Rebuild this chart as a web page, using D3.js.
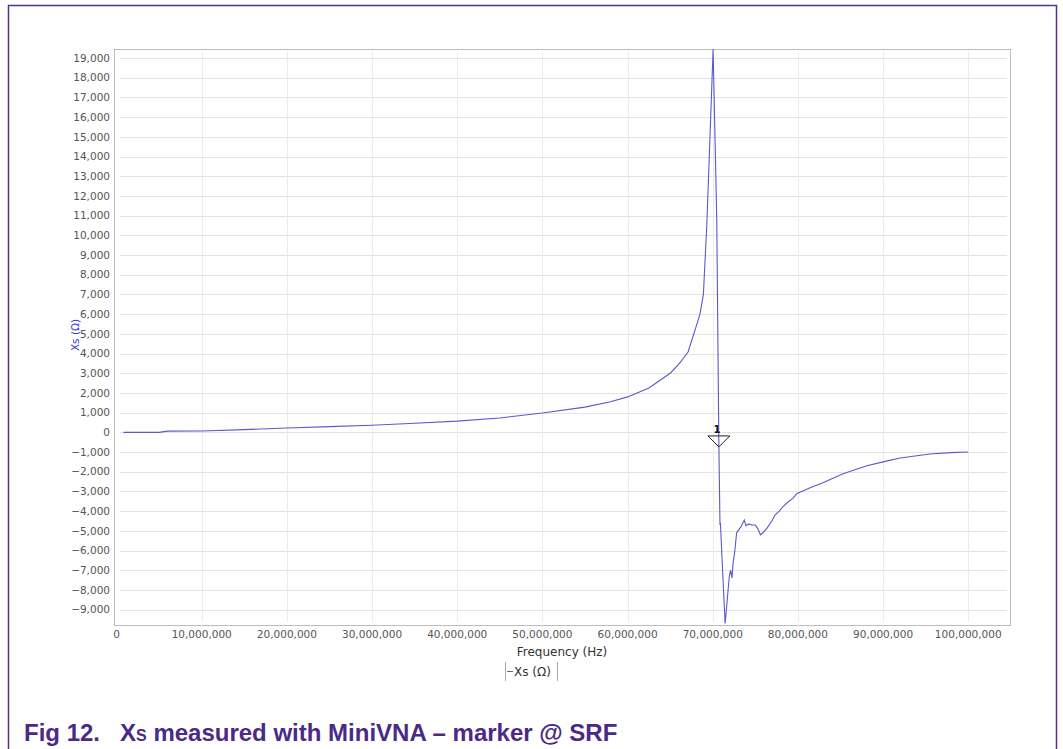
<!DOCTYPE html>
<html>
<head>
<meta charset="utf-8">
<script src="https://cdn.jsdelivr.net/npm/d3@7"></script>
<style>
  body { margin: 0; background: #fff; }
  svg { display: block; }
</style>
</head>
<body>
<div id="chart"></div>
<script>
var freqMHz = [0.8, 5, 6, 10, 15, 20, 25, 30, 35, 40, 45, 50, 55, 58, 60, 62.5, 65, 66, 67.1, 68, 68.5, 68.9, 69.3, 69.55, 69.8, 70.04,
  70.47, 70.72, 70.85, 70.9, 71.1, 71.45, 71.6, 71.8, 71.95, 72.1, 72.25, 72.4, 72.6, 72.8, 73.3, 73.7, 73.9, 74.2, 74.6,
  75.0, 75.3, 75.6, 75.9, 76.4, 77.0, 77.3, 77.8, 78.2, 78.8, 79.4, 79.9, 80.7, 81.5, 83.0, 85.3, 88.1, 90.0, 92.0, 95.5, 98, 100];
var xsOhm = [0, 0, 60, 70, 140, 220, 290, 360, 460, 570, 730, 980, 1280, 1550, 1800, 2250, 3000, 3450, 4080, 5300, 6000, 7000, 10500, 13500, 16500, 19450,
  10800, -700, -4700, -4600, -6500, -9700, -9000, -8000, -7300, -7000, -7400, -6600, -6000, -5100, -4800, -4450, -4750, -4650, -4700,
  -4700, -4900, -5200, -5100, -4850, -4450, -4200, -4000, -3800, -3550, -3350, -3100, -2950, -2800, -2550, -2100, -1700, -1500, -1300, -1100, -1030, -1000];

var xTicks = d3.range(0, 100000001, 10000000);
var yTicks = d3.range(-9000, 19001, 1000);

var markerFreq = 70.72e6, markerXs = -740, markerLabel = "1";

var seriesName = "Xs (\u03A9)";
var xTitle = "Frequency (Hz)";
var caption = "Fig 12.";
var captionRest = " measured with MiniVNA \u2013 marker @ SRF";

var W = 1063, H = 749;
var plot = { left: 114, top: 49, right: 1010, bottom: 625 };

var svg = d3.select("#chart").append("svg")
    .attr("width", W)
    .attr("height", H);

// frame
svg.append("path")
    .attr("d", "M8.5," + H + "V5.5H1056.5V" + H)
    .attr("fill", "none")
    .attr("stroke", "#55308f")
    .attr("stroke-width", 1.5);

var x = d3.scaleLinear()
    .domain([-0.3e6, 104.9e6])
    .range([plot.left, plot.right]);

var y = d3.scaleLinear()
    .domain([-9780, 19460])
    .range([plot.bottom, plot.top]);

var fmt = d3.format(",");

// grid
svg.append("g")
    .selectAll("line")
    .data(yTicks)
    .enter().append("line")
    .attr("x1", plot.left + 6)
    .attr("x2", plot.right - 3)
    .attr("y1", function(d) { return Math.round(y(d)) + 0.5; })
    .attr("y2", function(d) { return Math.round(y(d)) + 0.5; })
    .style("stroke", "#e4e4e4");

svg.append("g")
    .selectAll("line")
    .data(xTicks.slice(1))
    .enter().append("line")
    .attr("x1", function(d) { return Math.round(x(d)) + 0.5; })
    .attr("x2", function(d) { return Math.round(x(d)) + 0.5; })
    .attr("y1", plot.top + 3)
    .attr("y2", plot.bottom - 3)
    .style("stroke", "#ececec");

// plot border
svg.append("rect")
    .attr("x", plot.left + 0.5)
    .attr("y", plot.top + 0.5)
    .attr("width", plot.right - plot.left)
    .attr("height", plot.bottom - plot.top)
    .attr("fill", "none")
    .attr("stroke", "#bdbdbd");

// tick labels
svg.append("g")
    .selectAll("text")
    .data(yTicks)
    .enter().append("text")
    .attr("x", plot.left - 4)
    .attr("y", function(d) { return y(d); })
    .attr("dy", "0.35em")
    .attr("text-anchor", "end")
    .style("font", "10.5px 'DejaVu Sans'")
    .style("fill", "#555")
    .text(function(d) { return fmt(d); });

svg.append("g")
    .selectAll("text")
    .data(xTicks)
    .enter().append("text")
    .attr("x", function(d) { return x(d); })
    .attr("y", plot.bottom + 13)
    .attr("text-anchor", "middle")
    .style("font", "10.5px 'DejaVu Sans'")
    .style("fill", "#555")
    .text(function(d) { return fmt(d); });

// axis titles
svg.append("text")
    .attr("x", (plot.left + plot.right) / 2)
    .attr("y", plot.bottom + 31)
    .attr("text-anchor", "middle")
    .style("font", "12px 'DejaVu Sans'")
    .style("fill", "#333")
    .text(xTitle);

svg.append("text")
    .attr("transform", "translate(79," + 335 + ") rotate(-90)")
    .attr("text-anchor", "middle")
    .style("font", "10.5px 'DejaVu Sans'")
    .style("fill", "#3a3ad0")
    .text(seriesName);

// legend
var lg = svg.append("g").attr("transform", "translate(505,662)");
lg.append("line").attr("x1", 0.5).attr("x2", 0.5).attr("y1", 0).attr("y2", 19).style("stroke", "#aaa");
lg.append("line").attr("x1", 52.5).attr("x2", 52.5).attr("y1", 0).attr("y2", 19).style("stroke", "#aaa");
lg.append("line").attr("x1", 2).attr("x2", 8).attr("y1", 9.5).attr("y2", 9.5).style("stroke", "#666");
lg.append("text")
    .attr("x", 9)
    .attr("y", 14)
    .style("font", "12px 'DejaVu Sans'")
    .style("fill", "#333")
    .text(seriesName);

// curve
var data = freqMHz.map(function(f, i) { return { f: f * 1e6, v: xsOhm[i] }; });

var line = d3.line()
    .x(function(d) { return x(d.f); })
    .y(function(d) { return y(d.v); });

svg.append("path")
    .datum(data)
    .attr("d", line)
    .attr("fill", "none")
    .attr("stroke", "#5a5acb")
    .attr("stroke-width", 1.1);

// marker
var mx = x(markerFreq), my = y(markerXs);
svg.append("path")
    .attr("d", "M" + mx + "," + my + "L" + (mx - 11) + "," + (my - 11) + "L" + (mx + 11) + "," + (my - 11) + "Z")
    .attr("fill", "none")
    .attr("stroke", "#222")
    .attr("stroke-width", 1);
svg.append("text")
    .attr("x", mx - 2)
    .attr("y", my - 14)
    .attr("text-anchor", "middle")
    .style("font", "bold 10px 'DejaVu Sans'")
    .style("fill", "#111")
    .text(markerLabel);

// caption
var cap = svg.append("text")
    .attr("x", 24)
    .attr("y", 741)
    .style("font", "bold 24px 'Liberation Sans'")
    .style("fill", "#4a2a86");
cap.append("tspan").text(caption);
cap.append("tspan").attr("dx", 20).text("X");
cap.append("tspan").style("font-size", "16px").text("S");
cap.append("tspan").text(captionRest);
</script>
</body>
</html>
